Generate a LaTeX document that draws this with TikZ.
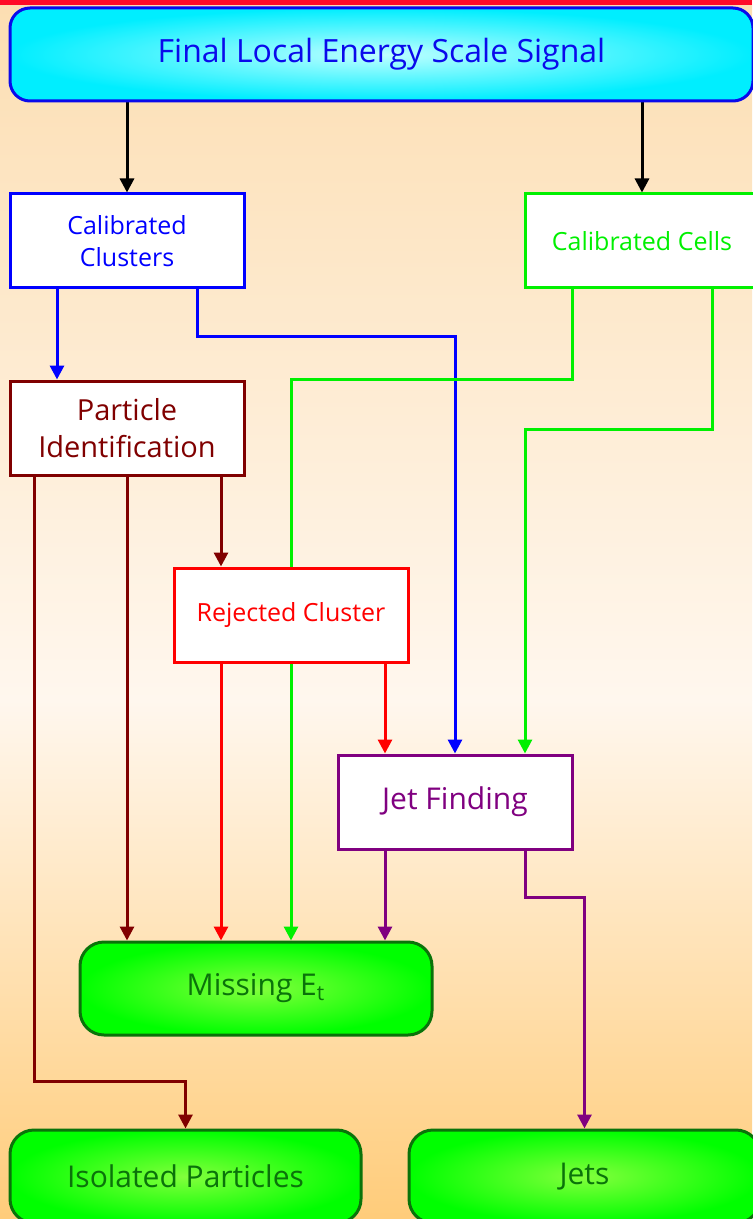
\documentclass[tikz,border=0pt]{standalone}
\usepackage{fontspec}
\setmainfont{Open Sans}
\usetikzlibrary{arrows.meta,positioning}
\definecolor{bgtop}{RGB}{252,222,178}
\definecolor{bgmid}{RGB}{255,247,238}
\definecolor{bgbot}{RGB}{255,204,122}
\definecolor{topred}{RGB}{255,10,40}
\definecolor{tblue}{RGB}{10,10,235}
\definecolor{cyfull}{RGB}{0,238,255}
\definecolor{cylight}{RGB}{190,255,255}
\definecolor{cgreen}{RGB}{0,240,0}
\definecolor{dred}{RGB}{128,0,0}
\definecolor{purp}{RGB}{128,0,128}
\definecolor{gfull}{RGB}{0,255,0}
\definecolor{glight}{RGB}{130,255,60}
\definecolor{ogreen}{RGB}{10,115,10}
\pgfdeclarelayer{bg}
\pgfdeclarelayer{wires}
\pgfsetlayers{bg,wires,main}
\begin{document}
\begin{tikzpicture}[x=0.5pt, y=-0.5pt, >={Triangle[width=7pt,length=7pt]},
  box/.style={draw, line width=1.5pt, fill=white, minimum width=117pt, minimum height=47pt, align=center, inner sep=2pt},
  roundbox/.style={draw=ogreen, line width=1.5pt, rounded corners=12pt, inner color=glight, outer color=gfull, minimum height=46.5pt, text=ogreen, font=\fontsize{15}{18}\selectfont},
  wire/.style={line width=1.5pt, ->}]
\useasboundingbox (0,0) rectangle (752,1219);
\begin{pgfonlayer}{bg}
\shade[top color=bgtop, bottom color=bgmid] (0,0) rectangle (752,700);
\shade[top color=bgmid, bottom color=bgbot] (0,700) rectangle (752,1219);
\fill[topred] (0,0) rectangle (752,5);
\end{pgfonlayer}

\node[draw=tblue, line width=1.5pt, rounded corners=10pt, inner color=cylight, outer color=cyfull, minimum width=371.5pt, minimum height=46.5pt, text=tblue, font=\fontsize{16}{19}\selectfont] (top) at (381.5,54.5) {Final Local Energy Scale Signal};
\node[box, draw=blue, text=blue, font=\fontsize{12.5}{16}\selectfont] (cc) at (127,241) {Calibrated\\Clusters};
\node[box, draw=cgreen, text=cgreen, font=\fontsize{12.5}{16}\selectfont] (ce) at (642,241) {Calibrated Cells};
\node[box, draw=dred, text=dred, font=\fontsize{14.5}{18.5}\selectfont] (pid) at (127,428) {Particle\\Identification};
\node[box, draw=red, text=red, font=\fontsize{12.5}{16}\selectfont] (rc) at (291,615) {Rejected Cluster};
\node[box, draw=purp, text=purp, font=\fontsize{15}{18}\selectfont] (jf) at (455,802) {Jet Finding};
\node[roundbox, minimum width=176pt] (me) at (256,988.5) {Missing E\textsubscript{t}};
\node[roundbox, minimum width=175.5pt] (iso) at (185.5,1176.5) {Isolated Particles};
\node[roundbox, minimum width=175.5pt] (jets) at (584.5,1176.5) {Jets};

\begin{pgfonlayer}{wires}
\draw[wire, black] (top.south -| cc.north) -- (cc.north);
\draw[wire, black] (top.south -| ce.north) -- (ce.north);

\draw[wire, blue] ([xshift=-35pt]cc.south) -- ([xshift=-35pt]cc.south |- pid.north);
\draw[wire, blue] ([xshift=35pt]cc.south) -- ++(0,47) -| (jf.north);

\draw[wire, cgreen] ([xshift=-35pt]ce.south) |- (pid.north -| rc.north) -- (rc.north |- me.north);
\draw[wire, cgreen] ([xshift=35pt]ce.south) -- ++(0,140) -| ([xshift=35pt]jf.north);

\draw[wire, dred] ([xshift=-46.5pt]pid.south) |- ([yshift=23.5pt]iso.north) -- (iso.north);
\draw[wire, dred] (pid.south) -- (pid.south |- me.north);
\draw[wire, dred] ([xshift=47pt]pid.south) -- ([xshift=47pt]pid.south |- rc.north);

\draw[wire, red] ([xshift=-35pt]rc.south) -- ([xshift=-35pt]rc.south |- me.north);
\draw[wire, red] ([xshift=47pt]rc.south) -- ([xshift=47pt]rc.south |- jf.north);

\draw[wire, purp] ([xshift=-35pt]jf.south) -- ([xshift=-35pt]jf.south |- me.north);
\draw[wire, purp] ([xshift=35pt]jf.south) -- ++(0,47) -| (jets.north);
\end{pgfonlayer}
\end{tikzpicture}
\end{document}
